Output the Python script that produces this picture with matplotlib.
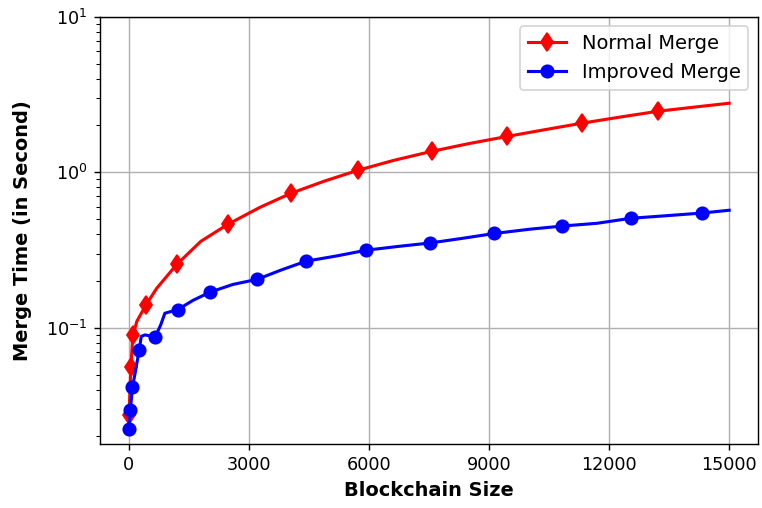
import matplotlib
matplotlib.use("Agg")
import matplotlib.pyplot as plt
from matplotlib.lines import Line2D

# Normal Merge: line trace and marker positions
normal_x = [0, 20, 50, 100, 200, 425, 700, 1200, 1800, 2475, 3275, 4050,
            4900, 5725, 6600, 7575, 8500, 9450, 10400, 11325, 12300, 13225,
            14100, 15000]
normal_y = [0.025, 0.035, 0.056, 0.089, 0.11, 0.140, 0.18, 0.256, 0.36,
            0.463, 0.595, 0.733, 0.88, 1.03, 1.19, 1.365, 1.53, 1.70, 1.88,
            2.07, 2.27, 2.47, 2.62, 2.78]
normal_mk_x = [0, 50, 100, 425, 1200, 2475, 4050, 5725, 7575, 9450, 11325,
               13225]
normal_mk_y = [0.0274, 0.0557, 0.0895, 0.1396, 0.256, 0.463, 0.733, 1.03,
               1.365, 1.70, 2.07, 2.47]

# Improved Merge: line trace and marker positions
improved_x = [0, 40, 90, 150, 260, 310, 400, 500, 660, 800, 900, 1225, 1600,
              2040, 2600, 3210, 3800, 4425, 5200, 5915, 6700, 7525, 8300,
              9133, 10000, 10825, 11700, 12540, 13400, 14325, 15000]
improved_y = [0.0225, 0.0298, 0.0416, 0.05, 0.0724, 0.088, 0.090, 0.089,
              0.0873, 0.105, 0.124, 0.131, 0.150, 0.170, 0.19, 0.205, 0.235,
              0.268, 0.29, 0.315, 0.333, 0.351, 0.375, 0.404, 0.43, 0.451,
              0.47, 0.506, 0.525, 0.547, 0.570]
improved_mk_x = [0, 40, 90, 260, 660, 1225, 2040, 3210, 4425, 5915, 7525,
                 9133, 10825, 12540, 14325]
improved_mk_y = [0.0225, 0.0298, 0.0416, 0.0724, 0.0873, 0.131, 0.170, 0.205,
                 0.268, 0.315, 0.351, 0.404, 0.451, 0.506, 0.547]

fig, ax = plt.subplots(figsize=(6, 4), dpi=127)
fig.subplots_adjust(left=0.131, right=0.995, top=0.967, bottom=0.126)

ax.plot(normal_x, normal_y, color="red", lw=1.75)
ax.plot(normal_mk_x, normal_mk_y, "d", color="red", ms=7.5)
ax.plot(improved_x, improved_y, color="blue", lw=1.75)
ax.plot(improved_mk_x, improved_mk_y, "o", color="blue", ms=7)

ax.set_yscale("log")
ax.set_ylim(0.0179, 10)
ax.set_xlim(-725, 15725)
ax.set_xticks([0, 3000, 6000, 9000, 12000, 15000])
ax.tick_params(labelsize=10)
ax.grid(True, color="#b0b0b0")

ax.set_xlabel("Blockchain Size", fontsize=11, fontweight="bold")
ax.set_ylabel("Merge Time (in Second)", fontsize=11, fontweight="bold",
              labelpad=8)

handles = [
    Line2D([], [], color="red", lw=1.75, marker="d", ms=7.5),
    Line2D([], [], color="blue", lw=1.75, marker="o", ms=7),
]
ax.legend(handles, ["Normal Merge", "Improved Merge"], loc="upper right",
          fontsize=11)

fig.savefig("out.png", dpi=127)
